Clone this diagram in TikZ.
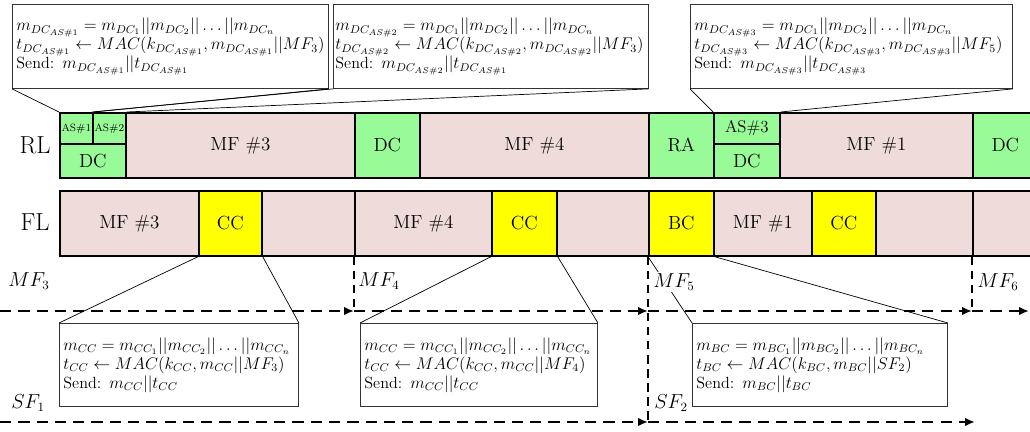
\documentclass[tikz,border=0pt]{standalone}
\usepackage{xcolor}
\usetikzlibrary{arrows.meta}
\definecolor{mfpink}{RGB}{240,219,219}
\definecolor{dcgreen}{RGB}{152,251,152}
\definecolor{ccyellow}{RGB}{255,255,0}

\begin{document}
\begin{tikzpicture}[x=0.025cm,y=-0.025cm,
  cell/.style 2 args={draw=black, line width=1.2pt, anchor=north west, inner sep=0pt,
    minimum width=#1*0.025cm, minimum height=#2*0.025cm, font=\fontsize{13.5}{15}\selectfont},
  mf/.style={cell={#1}{65}, fill=mfpink},
  dcbox/.style 2 args={cell={#1}{#2}, fill=dcgreen},
  ccbox/.style={cell={#1}{65}, fill=ccyellow},
  bulle/.style={draw=black!80, line width=0.6pt, fill=white, anchor=north west,
    inner xsep=0.1cm, inner ysep=0pt, align=left, font=\fontsize{11.5}{13.5}\selectfont},
  lien/.style={line width=0.5pt},
  lab/.style={fill=white, inner sep=1pt, font=\fontsize{13.5}{15}\selectfont},
  trame/.style={line width=1.4pt, dash pattern=on 8pt off 5pt, -{Latex[length=7pt,width=6pt]}},
  vtrame/.style={line width=1.4pt, dash pattern=on 6pt off 4pt}]
\useasboundingbox (0,0) rectangle (1030,432);

%ligne RL
\node[font=\fontsize{17.5}{20}\selectfont] (rl) at (35,145) {RL};
\node[dcbox={33}{31}, font=\fontsize{7.5}{9}\selectfont] (as1) at (59,112) {AS\#1};
\node[dcbox={33}{31}, font=\fontsize{7.5}{9}\selectfont] (as2) at (92,112) {AS\#2};
\node[dcbox={66}{34}] (dc1) at (59,143) {DC};
\node[mf=229] (rmf3) at (125,112) {MF \#3};
\node[dcbox={65}{65}] (dc2) at (354,112) {DC};
\node[mf=229] (rmf4) at (419,112) {MF \#4};
\node[dcbox={65}{65}] (ra) at (648,112) {RA};
\node[dcbox={66}{31}, font=\fontsize{12}{14}\selectfont] (as3) at (713,112) {AS\#3};
\node[dcbox={66}{34}] (dc3) at (713,143) {DC};
\node[mf=193] (rmf1) at (779,112) {MF \#1};
\node[dcbox={65}{65}] (dc4) at (972,112) {DC};
%fin

%ligne FL
\node[font=\fontsize{17.5}{20}\selectfont] (fl) at (35,222) {FL};
\node[mf=139] (fmf3) at (59,190) {MF \#3};
\node[ccbox=63] (cc1) at (198,190) {CC};
\node[mf=93] (f1) at (261,190) {};
\node[mf=137] (fmf4) at (354,190) {MF \#4};
\node[ccbox=65] (cc2) at (491,190) {CC};
\node[mf=92] (f2) at (556,190) {};
\node[ccbox=65] (bc) at (648,190) {BC};
\node[mf=98] (fmf1) at (713,190) {MF \#1};
\node[ccbox=64] (cc3) at (811,190) {CC};
\node[mf=97] (f3) at (875,190) {};
\node[mf=70] (f4) at (972,190) {};
%fin

%bulles du haut
\node[bulle, text width=7.7cm, minimum height=2.1cm] (ba) at (12,4)
  {$m_{DC_{AS\#1}} = m_{DC_1}||m_{DC_2}||\ldots||m_{DC_n}$\\
   $t_{DC_{AS\#1}} \leftarrow MAC(k_{DC_{AS\#1}}, m_{DC_{AS\#1}}||MF_3)$\\
   Send: $m_{DC_{AS\#1}}||t_{DC_{AS\#1}}$};
\node[bulle, inner xsep=0.05cm, text width=7.775cm, minimum height=2.1cm] (bb) at (333,4)
  {$m_{DC_{AS\#2}} = m_{DC_1}||m_{DC_2}||\ldots||m_{DC_n}$\\
   $t_{DC_{AS\#2}} \leftarrow MAC(k_{DC_{AS\#2}}, m_{DC_{AS\#2}}||MF_3)$\\
   Send: $m_{DC_{AS\#2}}||t_{DC_{AS\#1}}$};
\node[bulle, text width=7.85cm, minimum height=2.1cm] (bc3) at (690,4)
  {$m_{DC_{AS\#3}} = m_{DC_1}||m_{DC_2}||\ldots||m_{DC_n}$\\
   $t_{DC_{AS\#3}} \leftarrow MAC(k_{DC_{AS\#3}}, m_{DC_{AS\#3}}||MF_5)$\\
   Send: $m_{DC_{AS\#3}}||t_{DC_{AS\#3}}$};
\draw[lien] (ba.south west) -- (as1.north west);
\draw[lien] (ba.south east) -- (as1.north east);
\draw[lien] (bb.south west) -- (as2.north west);
\draw[lien] (bb.south east) -- (as2.north east);
\draw[lien] (bc3.south west) -- (as3.north west);
\draw[lien] (bc3.south east) -- (as3.north east);
%fin

%bulles du bas
\node[bulle, text width=5.775cm, minimum height=2.075cm] (bd) at (59,323)
  {$m_{CC} = m_{CC_1}||m_{CC_2}||\ldots||m_{CC_n}$\\
   $t_{CC} \leftarrow MAC(k_{CC}, m_{CC}||MF_3)$\\
   Send: $m_{CC}||t_{CC}$};
\node[bulle, text width=5.725cm, minimum height=2.075cm] (be) at (360,323)
  {$m_{CC} = m_{CC_1}||m_{CC_2}||\ldots||m_{CC_n}$\\
   $t_{CC} \leftarrow MAC(k_{CC}, m_{CC}||MF_4)$\\
   Send: $m_{CC}||t_{CC}$};
\node[bulle, text width=6.175cm, minimum height=2.075cm] (bf) at (692,323)
  {$m_{BC} = m_{BC_1}||m_{BC_2}||\ldots||m_{BC_n}$\\
   $t_{BC} \leftarrow MAC(k_{BC}, m_{BC}||SF_2)$\\
   Send: $m_{BC}||t_{BC}$};
\draw[lien] (bd.north west) -- (cc1.south west);
\draw[lien] (bd.north east) -- (cc1.south east);
\draw[lien] (be.north west) -- (cc2.south west);
\draw[lien] (be.north east) -- (cc2.south east);
\draw[lien] (bf.north west) -- (bc.south west);
\draw[lien] (bf.north east) -- (bc.south east);
%fin

%trames MF et SF
\coordinate (m0) at (0,311);
\coordinate (m1) at (354,311);
\coordinate (m2) at (648,311);
\coordinate (m3) at (972,311);
\coordinate (m4) at (1029,311);
\coordinate (s0) at (0,422);
\coordinate (s1) at (648,422);
\coordinate (s2) at (975,422);
\draw[vtrame] (fmf4.south west) -- (m1);
\draw[vtrame] (bc.south west) -- (s1);
\draw[vtrame] (f4.south west) -- (m3);
\draw[trame] (m0) -- (m1);
\draw[trame] (m1) -- (m2);
\draw[trame] (m2) -- (m3);
\draw[trame] (m3) -- (m4);
\draw[trame] (s0) -- (s1);
\draw[trame] (s1) -- (s2);
%fin

%etiquettes
\node[lab] (lmf3) at (29,281) {$MF_3$};
\node[lab] (lmf4) at (379,281) {$MF_4$};
\node[lab] (lmf5) at (674,282) {$MF_5$};
\node[lab] (lmf6) at (998,282) {$MF_6$};
\node[lab] (lsf1) at (28,403) {$SF_1$};
\node[lab] (lsf2) at (671,403) {$SF_2$};
%fin
\end{tikzpicture}
\end{document}
